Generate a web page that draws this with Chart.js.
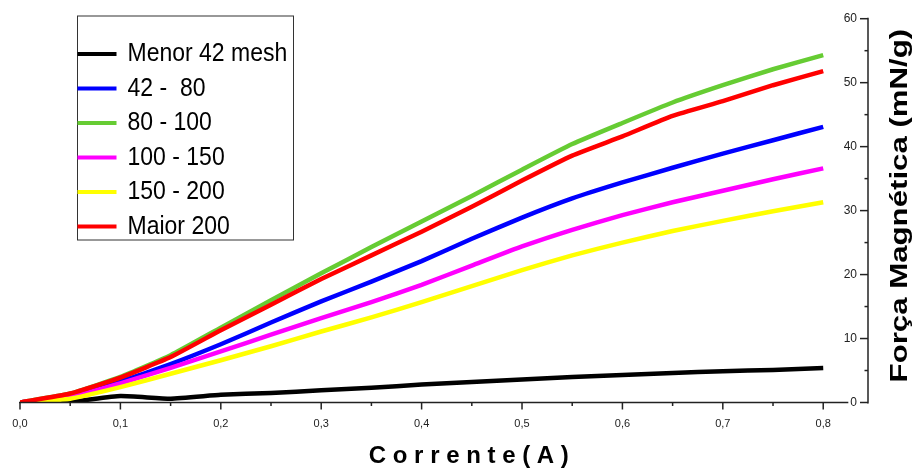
<!DOCTYPE html>
<html><head><meta charset="utf-8">
<script src="https://cdn.jsdelivr.net/npm/chart.js@4"></script>
<style>html,body{margin:0;padding:0;background:#fff}#wrap{width:914px;height:473px;position:relative}</style>
</head><body><div id="wrap"><canvas id="c"></canvas></div>
<script>
// ---- data ----
const corrente = [0,0.05,0.1,0.15,0.2,0.25,0.3,0.35,0.4,0.45,0.5,0.55,0.6,0.65,0.7,0.75,0.8];
const menor42  = [0,0.1,1.0,0.6,1.2,1.5,1.9,2.3,2.8,3.2,3.6,4.0,4.3,4.6,4.9,5.1,5.4];
const m42_80   = [0,1.0,3.3,6.0,9.1,12.5,15.8,18.9,22.1,25.6,28.9,31.9,34.4,36.7,38.9,41.0,43.1];
const m80_100  = [0,1.4,4.0,7.4,11.7,16.0,20.2,24.3,28.3,32.3,36.4,40.4,43.7,46.9,49.6,52.1,54.3];
const m100_150 = [0,0.8,3.0,5.4,8.0,10.6,13.2,15.7,18.4,21.4,24.4,27.0,29.3,31.3,33.1,34.9,36.6];
const m150_200 = [0,0.6,2.4,4.5,6.6,8.8,11.1,13.3,15.7,18.2,20.7,23.0,25.0,26.8,28.4,29.9,31.3];
const maior200 = [0,1.4,3.9,7.1,11.3,15.3,19.3,23.0,26.7,30.6,34.7,38.6,41.6,44.8,47.1,49.6,51.8];
const seriesLabels = ['Menor 42 mesh','42 -  80','80 - 100','100 - 150','150 - 200','Maior 200'];
const seriesValues = [menor42, m42_80, m80_100, m100_150, m150_200, maior200];
const seriesColors = ['#000000','#0000ff','#66cc33','#ff00ff','#ffff00','#ff0000'];
const xTickValues = [0,0.05,0.1,0.15,0.2,0.25,0.3,0.35,0.4,0.45,0.5,0.55,0.6,0.65,0.7,0.75,0.8];
const xTickLabels = ['0,0','0,1','0,2','0,3','0,4','0,5','0,6','0,7','0,8'];
const yTickValues = [0,5,10,15,20,25,30,35,40,45,50,55,60];
const yTickLabels = ['0','10','20','30','40','50','60'];
const xTitle = 'C o r r e n t e ( A )';
const yTitle = 'Força Magnética (mN/g)';

const SANS = '"Liberation Sans", Arial, sans-serif';

const datasets = seriesValues.map((vals, i) => ({
  label: seriesLabels[i],
  data: corrente.map((x, j) => ({x, y: vals[j]})),
  borderColor: seriesColors[i],
  backgroundColor: seriesColors[i],
  borderWidth: 4.5,
  pointRadius: 0,
  tension: 0.15,
  fill: false,
  order: seriesValues.length - i
}));

const isMajor = (v, step) => Math.abs(v / step - Math.round(v / step)) < 1e-6;

const decor = {
  id: 'decor',
  afterDatasetsDraw(chart) {
    const {ctx, chartArea: a, scales: {x, y}} = chart;
    ctx.save();
    ctx.strokeStyle = '#222';
    ctx.lineWidth = 1.5;
    ctx.beginPath();
    ctx.moveTo(x.getPixelForValue(0) - 1, a.bottom);
    ctx.lineTo(x.getPixelForValue(0.825), a.bottom);
    ctx.stroke();
    x.ticks.forEach(t => {
      const px = x.getPixelForValue(t.value);
      const len = isMajor(t.value, 0.1) ? 7 : 3.5;
      ctx.beginPath(); ctx.moveTo(px, a.bottom); ctx.lineTo(px, a.bottom + len); ctx.stroke();
    });
    ctx.beginPath();
    ctx.moveTo(a.right, a.top - 1);
    ctx.lineTo(a.right, a.bottom + 1);
    ctx.stroke();
    y.ticks.forEach(t => {
      const py = y.getPixelForValue(t.value);
      const len = isMajor(t.value, 10) ? 8 : 3.5;
      ctx.beginPath(); ctx.moveTo(a.right, py); ctx.lineTo(a.right - len, py); ctx.stroke();
    });
    // x title
    ctx.fillStyle = '#000';
    ctx.font = 'bold 24px ' + SANS;
    ctx.textAlign = 'center';
    ctx.textBaseline = 'middle';
    ctx.fillText(xTitle, x.getPixelForValue(0.447), 456);
    // y title
    ctx.translate(900, (a.top + a.bottom) / 2 - 5);
    ctx.rotate(-Math.PI / 2);
    ctx.scale(1.3, 1);
    ctx.fillText(yTitle, 0, 0);
    ctx.restore();

    // legend
    ctx.save();
    const bx = 77.5, by = 16, bw = 216, bh = 224;
    ctx.fillStyle = '#fff';
    ctx.fillRect(bx, by, bw, bh);
    ctx.strokeStyle = '#333';
    ctx.lineWidth = 1;
    ctx.strokeRect(bx, by, bw, bh);
    ctx.font = '23px ' + SANS;
    ctx.textBaseline = 'middle';
    ctx.textAlign = 'left';
    chart.data.datasets.forEach((ds, i) => {
      const cy = by + 38 + i * 34.5;
      ctx.strokeStyle = ds.borderColor;
      ctx.lineWidth = 4;
      ctx.beginPath(); ctx.moveTo(bx, cy); ctx.lineTo(bx + 39, cy); ctx.stroke();
      ctx.fillStyle = '#000';
      ctx.save();
      ctx.translate(bx + 50, cy);
      ctx.scale(1, 1.12);
      ctx.fillText(ds.label, 0, 0);
      ctx.restore();
    });
    ctx.restore();
  }
};

new Chart(document.getElementById('c'), {
  type: 'line',
  data: { datasets },
  options: {
    responsive: true,
    maintainAspectRatio: false,
    animation: false,
    layout: { padding: { left: 20, top: 18.7, right: 0, bottom: 0 } },
    plugins: { legend: { display: false }, tooltip: { enabled: false } },
    scales: {
      x: {
        type: 'linear', min: 0, max: 0.8446,
        afterBuildTicks: s => { s.ticks = xTickValues.map(v => ({value: v})); },
        afterFit: s => { s.height = 70.5; },
        grid: { display: false }, border: { display: false },
        ticks: {
          autoSkip: false, maxRotation: 0, padding: 7, color: '#222',
          font: { family: SANS, size: 11 },
          callback: v => isMajor(v, 0.1) ? xTickLabels[Math.round(v * 10)] : ''
        },
        title: { display: false }
      },
      y: {
        position: 'right', min: 0, max: 60,
        afterBuildTicks: s => { s.ticks = yTickValues.map(v => ({value: v})); },
        afterFit: s => { s.width = 46; },
        grid: { display: false }, border: { display: false },
        ticks: {
          mirror: true, padding: -11, color: '#222',
          font: { family: SANS, size: 12 },
          callback: v => isMajor(v, 10) ? yTickLabels[Math.round(v / 10)] : ''
        }
      }
    }
  },
  plugins: [decor]
});
</script></body></html>
